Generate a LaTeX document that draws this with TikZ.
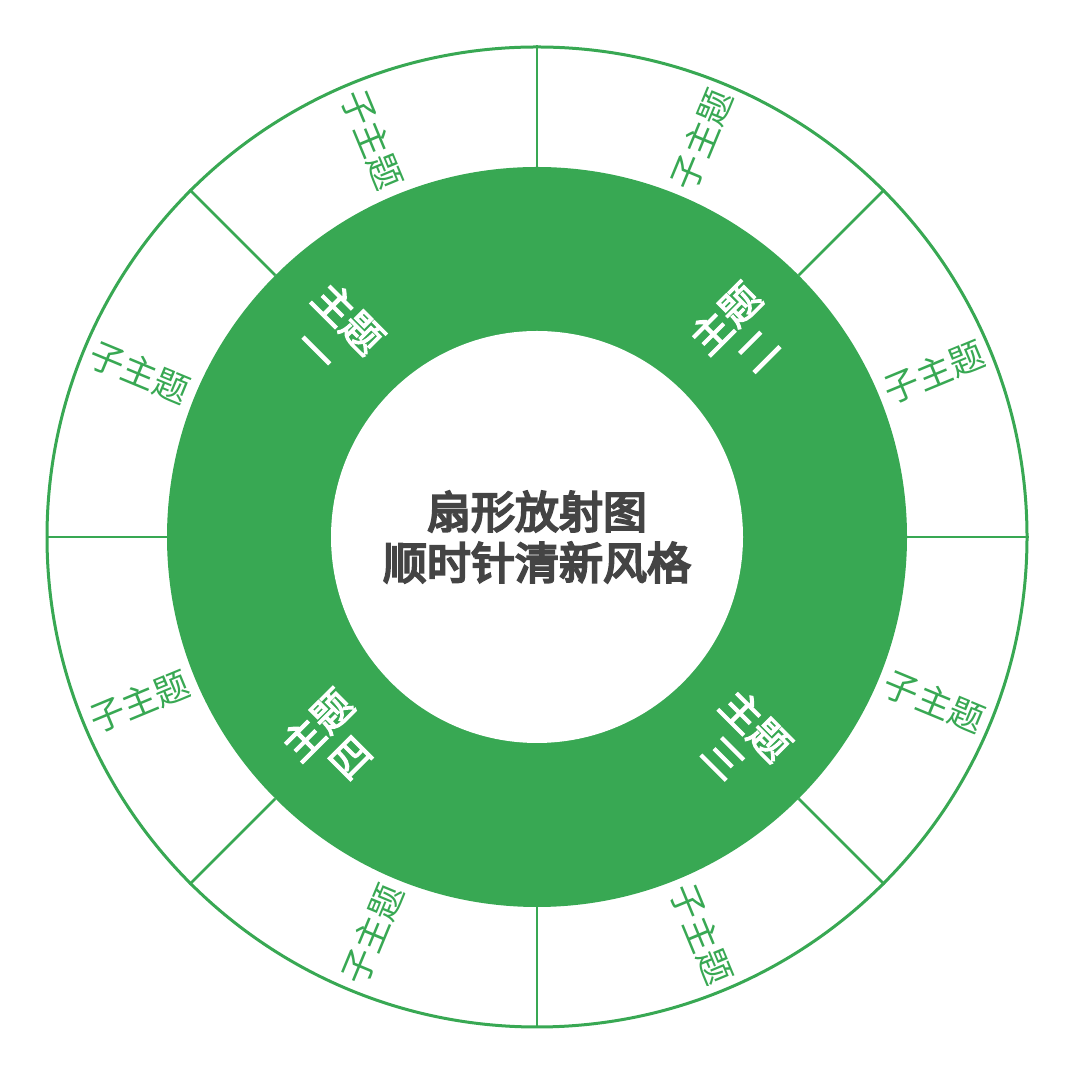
\documentclass[tikz,border=0pt]{standalone}
\usepackage{fontspec}
\newfontfamily\cjk{Noto Sans CJK SC}
\newfontfamily\cjkmed[FakeBold=3]{Noto Sans CJK SC}
\newfontfamily\cjktitle[FakeBold=5]{Noto Sans CJK SC}
\definecolor{grn}{HTML}{38A853}
\definecolor{txt}{HTML}{444444}
\tikzset{
  sub/.style={text=grn, font=\cjk\fontsize{35}{40}\selectfont, inner sep=0},
  topic/.style={text=white, font=\cjkmed\fontsize{40}{46}\selectfont, align=center, inner sep=0},
  title/.style={text=txt, font=\cjktitle\fontsize{44}{51}\selectfont, align=center, inner sep=0},
  divider/.style={draw=grn, line width=2.5pt}
}
\begin{document}
\begin{tikzpicture}[x=1pt,y=1pt]
\useasboundingbox (0,0) rectangle (1075,1075);
\coordinate (c) at (537,538);
\node[circle, draw=grn, line width=3pt, minimum size=980pt, inner sep=0] (outer) at (c) {};
\node[circle, fill=grn, minimum size=740pt, inner sep=0] (ring) at (c) {};
\node[circle, fill=white, minimum size=412pt, inner sep=0] (hole) at (c) {};
\foreach \a in {0,45,...,315} \draw[divider] (ring.\a) -- (outer.\a);
% sub-topics
\node[sub, rotate=22.5]  (s1) at ([shift={(22.5:430)}]c) {子主题};
\node[sub, rotate=67.5]  (s2) at ([shift={(67.5:430)}]c) {子主题};
\node[sub, rotate=-67.5] (s3) at ([shift={(112.5:430)}]c) {子主题};
\node[sub, rotate=-22.5] (s4) at ([shift={(157.5:430)}]c) {子主题};
\node[sub, rotate=22.5]  (s5) at ([shift={(202.5:430)}]c) {子主题};
\node[sub, rotate=67.5]  (s6) at ([shift={(247.5:430)}]c) {子主题};
\node[sub, rotate=-67.5] (s7) at ([shift={(292.5:430)}]c) {子主题};
\node[sub, rotate=-22.5] (s8) at ([shift={(337.5:430)}]c) {子主题};
% topics
\node[topic, rotate=-45] (t1) at ([shift={(135:288)}]c) {主题\\一};
\node[topic, rotate=45]  (t2) at ([shift={(45:288)}]c) {主题\\二};
\node[topic, rotate=-45] (t3) at ([shift={(-45:288)}]c) {主题\\三};
\node[topic, rotate=45]  (t4) at ([shift={(-135:288)}]c) {主题\\四};
% title
\node[title] (ttl) at (c) {扇形放射图\\顺时针清新风格};
\end{tikzpicture}
\end{document}
